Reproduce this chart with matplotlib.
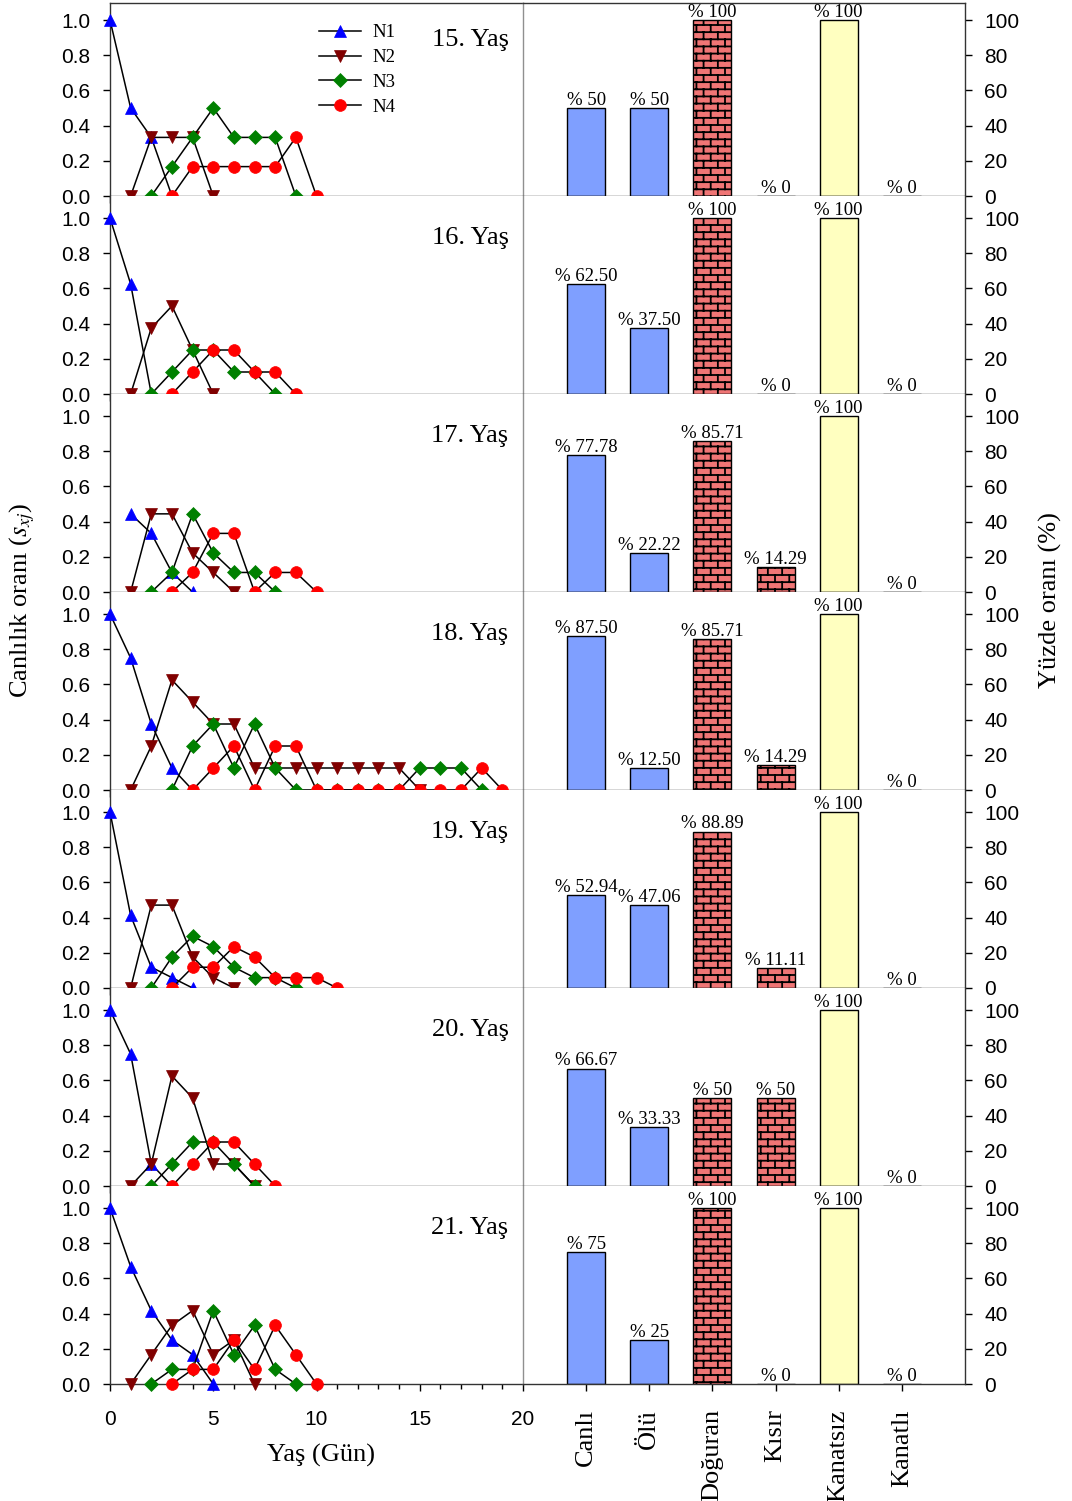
import warnings
import numpy as np
import matplotlib
matplotlib.use("Agg")
import matplotlib.pyplot as plt
from matplotlib import hatch as mhatch
from matplotlib.path import Path
from matplotlib.ticker import MultipleLocator

warnings.filterwarnings("ignore")

# ---- data -------------------------------------------------------------
ages = ["15. Yaş", "16. Yaş", "17. Yaş", "18. Yaş", "19. Yaş", "20. Yaş", "21. Yaş"]

# first day of each series, then the survival ratio day by day
n1_start = [0, 0, 1, 0, 0, 0, 0]
n1_vals = [
    [1.0, 0.5, 0.333, 0.0],
    [1.0, 0.625, 0.0],
    [0.444, 0.333, 0.111, 0.0],
    [1.0, 0.75, 0.375, 0.125, 0.0],
    [1.0, 0.412, 0.118, 0.059, 0.0],
    [1.0, 0.75, 0.125, 0.0],
    [1.0, 0.667, 0.417, 0.25, 0.167, 0.0],
]
n2_start = [1, 1, 1, 1, 1, 1, 1]
n2_vals = [
    [0.0, 0.333, 0.333, 0.333, 0.0],
    [0.0, 0.375, 0.5, 0.25, 0.0],
    [0.0, 0.444, 0.444, 0.222, 0.111, 0.0],
    [0.0, 0.25, 0.625, 0.5, 0.375, 0.375, 0.125, 0.125, 0.125, 0.125,
     0.125, 0.125, 0.125, 0.125, 0.0],
    [0.0, 0.471, 0.471, 0.176, 0.059, 0.0],
    [0.0, 0.125, 0.625, 0.5, 0.125, 0.125, 0.0],
    [0.0, 0.167, 0.333, 0.417, 0.167, 0.25, 0.0],
]
n3_start = [2, 2, 2, 3, 2, 2, 2]
n3_vals = [
    [0.0, 0.167, 0.333, 0.5, 0.333, 0.333, 0.333, 0.0],
    [0.0, 0.125, 0.25, 0.25, 0.125, 0.125, 0.0],
    [0.0, 0.111, 0.444, 0.222, 0.111, 0.111, 0.0],
    [0.0, 0.25, 0.375, 0.125, 0.375, 0.125, 0.0, 0.0, 0.0, 0.0,
     0.0, 0.0, 0.125, 0.125, 0.125, 0.0],
    [0.0, 0.176, 0.294, 0.235, 0.118, 0.059, 0.059, 0.0],
    [0.0, 0.125, 0.25, 0.25, 0.125, 0.0],
    [0.0, 0.083, 0.083, 0.417, 0.167, 0.333, 0.083, 0.0],
]
n4_start = [3, 3, 3, 4, 3, 3, 3]
n4_vals = [
    [0.0, 0.167, 0.167, 0.167, 0.167, 0.167, 0.333, 0.0],
    [0.0, 0.125, 0.25, 0.25, 0.125, 0.125, 0.0],
    [0.0, 0.111, 0.333, 0.333, 0.0, 0.111, 0.111, 0.0],
    [0.0, 0.125, 0.25, 0.0, 0.25, 0.25, 0.0, 0.0, 0.0, 0.0,
     0.0, 0.0, 0.0, 0.0, 0.125, 0.0],
    [0.0, 0.118, 0.118, 0.235, 0.176, 0.059, 0.059, 0.059, 0.0],
    [0.0, 0.125, 0.25, 0.25, 0.125, 0.0],
    [0.0, 0.083, 0.083, 0.25, 0.083, 0.333, 0.167, 0.0],
]

categories = ["Canlı", "Ölü", "Doğuran", "Kısır", "Kanatsız", "Kanatlı"]
pct = [
    [50, 50, 100, 0, 100, 0],
    [62.5, 37.5, 100, 0, 100, 0],
    [77.78, 22.22, 85.71, 14.29, 100, 0],
    [87.5, 12.5, 85.71, 14.29, 100, 0],
    [52.94, 47.06, 88.89, 11.11, 100, 0],
    [66.67, 33.33, 50, 50, 100, 0],
    [75, 25, 100, 0, 100, 0],
]


# brick pattern for the Doğuran / Kısır bars ('b' in the hatch string)
class BrickHatch(mhatch.HatchPatternBase):
    rows = 14
    cols = 7

    def __init__(self, hatch, density):
        self.segs = []
        if hatch and "b" in hatch:
            n, m = self.rows, self.cols
            for r in range(n):
                y0 = (r + 0.5) / n
                y1 = (r + 1.5) / n
                self.segs.append(((0, y0), (1, y0)))
                off = 0.5 / m if r % 2 else 0.0
                for c in range(m):
                    x = (c + 0.25) / m + off
                    if y1 > 1:
                        self.segs.append(((x, y0), (x, 1.0)))
                        self.segs.append(((x, 0.0), (x, y1 - 1)))
                    else:
                        self.segs.append(((x, y0), (x, y1)))
        self.num_vertices = 2 * len(self.segs)

    def set_vertices_and_codes(self, vertices, codes):
        vertices[:] = np.array(self.segs, dtype=float).reshape(-1, 2)
        codes[0::2] = Path.MOVETO
        codes[1::2] = Path.LINETO


mhatch._hatch_types.append(BrickHatch)

# ---- style ------------------------------------------------------------
plt.rcParams["font.family"] = ["Liberation Sans", "DejaVu Sans"]
plt.rcParams["mathtext.fontset"] = "stix"
plt.rcParams["hatch.linewidth"] = 1.3
serif = ["Liberation Serif", "DejaVu Serif"]

series_style = [
    ("N1", "^", "#0000ff", 9),
    ("N2", "v", "#800000", 9),
    ("N3", "D", "#008000", 7),
    ("N4", "o", "#ff0000", 8.5),
]
bar_face = ["#7f9fff", "#7f9fff", "#f07575", "#f07575", "#ffffc0", "#c0ffc0"]
bar_hatch = [None, None, "b", "b", None, None]

W, H = 1072, 1501
fig = plt.figure(figsize=(W / 100, H / 100), dpi=100)

unit = 176.0          # pixels for 1.0
left_l, left_r, right_r = 110, 523, 965

for i, age in enumerate(ages):
    y_zero = 196 + 198 * i
    y_top = 3 if i == 0 else y_zero - 198
    top_val = (y_zero - y_top) / unit
    bottom = 1 - y_zero / H
    height = (y_zero - y_top) / H

    ax = fig.add_axes([left_l / W, bottom, (left_r - left_l) / W, height])
    axb = fig.add_axes([left_r / W, bottom, (right_r - left_r) / W, height])

    # ---- survival lines
    starts = [n1_start[i], n2_start[i], n3_start[i], n4_start[i]]
    vals = [n1_vals[i], n2_vals[i], n3_vals[i], n4_vals[i]]
    for (lab, mk, col, ms), s, v in zip(series_style, starts, vals):
        days = np.arange(s, s + len(v))
        ax.plot(days, v, color="black", lw=1.1, marker=mk, ms=ms,
                markerfacecolor=col, markeredgecolor=col, mew=0.5,
                label=lab, clip_on=False, zorder=3)

    ax.set_xlim(0, 20)
    ax.set_ylim(0, top_val)
    ax.xaxis.set_major_locator(MultipleLocator(5))
    ax.xaxis.set_minor_locator(MultipleLocator(1))
    ax.set_yticks(np.arange(0, 1.01, 0.2))
    ax.set_yticklabels([f"{t:.1f}" for t in np.arange(0, 1.01, 0.2)])
    ax.tick_params(axis="y", direction="out", length=5, width=1, labelsize=15, pad=9)
    ax.tick_params(axis="x", which="major", direction="out", length=5, width=1,
                   labelsize=15, pad=14)
    ax.tick_params(axis="x", which="minor", direction="out", length=3.5, width=1)
    ax.spines["right"].set_visible(False)
    ax.spines["top"].set_visible(i == 0)
    for sp in ("left", "bottom", "top"):
        ax.spines[sp].set_linewidth(1)
        ax.spines[sp].set_color("#333333")
    if i < len(ages) - 1:
        ax.tick_params(axis="x", labelbottom=False)
    ax.text(19.3, 0.85, age, ha="right", va="baseline", fontsize=19, family=serif)

    if i == 0:
        ax.legend(loc="upper left", bbox_to_anchor=(0.507, 0.89), frameon=False,
                  borderaxespad=0, borderpad=0, handlelength=2.2,
                  handletextpad=0.65, labelspacing=0.41,
                  prop={"family": serif, "size": 13.5})

    # ---- percentage bars
    x = np.arange(len(categories))
    bars = axb.bar(x, pct[i], width=0.6, color=bar_face, edgecolor="black",
                   linewidth=1, zorder=2)
    for b, h in zip(bars, bar_hatch):
        if h:
            b.set_hatch(h)
    for xi, v in zip(x, pct[i]):
        txt = f"% {v:g}" if float(v).is_integer() else f"% {v:.2f}"
        axb.annotate(txt, (xi, v), xytext=(0, -0.5), textcoords="offset points",
                     ha="center", va="bottom", fontsize=13.5, family=serif)
    axb.set_xlim(-1, 6)
    axb.set_ylim(0, top_val * 100)
    axb.set_yticks(np.arange(0, 101, 20))
    axb.yaxis.tick_right()
    axb.tick_params(axis="y", direction="out", length=5, width=1, labelsize=15, pad=9)
    axb.set_xticks(x)
    axb.tick_params(axis="x", direction="out", length=5, width=1, pad=13)
    if i < len(ages) - 1:
        axb.tick_params(axis="x", labelbottom=False)
    else:
        axb.set_xticklabels(categories, rotation=90, fontsize=19, family=serif)
    axb.spines["top"].set_visible(i == 0)
    axb.spines["left"].set_color("#909090")
    axb.spines["left"].set_linewidth(1)
    for sp in ("right", "bottom", "top"):
        axb.spines[sp].set_linewidth(1)
        axb.spines[sp].set_color("#333333")

fig.text(22 / W, 1 - 600 / H, r"Canlılık oranı ($s_{xj}$)", rotation=90,
         ha="center", va="center", fontsize=19, family=serif)
fig.text(1050 / W, 1 - 600 / H, "Yüzde oranı (%)", rotation=90,
         ha="center", va="center", fontsize=19, family=serif)
fig.text(321 / W, 1 - 1455 / H, "Yaş (Gün)", ha="center", va="center",
         fontsize=19, family=serif)

fig.savefig("out.png", dpi=100)
